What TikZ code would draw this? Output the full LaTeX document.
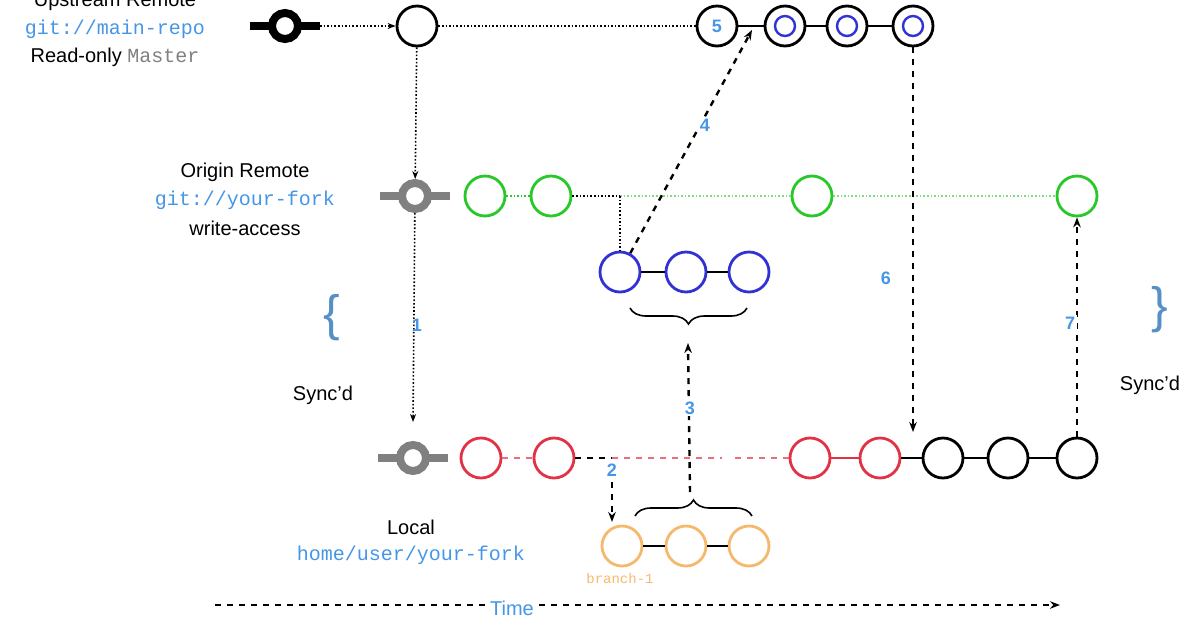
\documentclass[tikz,border=0pt]{standalone}
\usepackage{fontspec}
\setmainfont{Liberation Sans}
\setmonofont{Liberation Mono}
\usetikzlibrary{arrows.meta,decorations.pathreplacing}
\definecolor{lblue}{RGB}{70,150,230}
\definecolor{cgreen}{RGB}{40,200,40}
\definecolor{cred}{RGB}{225,50,70}
\definecolor{cblue}{RGB}{50,50,210}
\definecolor{corange}{RGB}{245,185,110}
\begin{document}
\begin{tikzpicture}[x=0.5pt,y=-0.5pt,
  c/.style={circle,draw,line width=1.4pt,minimum size=20pt,inner sep=0pt,fill=white},
  gc/.style={c,draw=cgreen}, rc/.style={c,draw=cred}, bc/.style={c,draw=cblue}, oc/.style={c,draw=corange},
  kc/.style={c,draw=black},
  inner/.style={circle,draw=cblue,line width=1.2pt,minimum size=10pt,inner sep=0pt},
  dotl/.style={densely dotted,line width=0.8pt},
  darr/.style={dashed,line width=1.2pt,-{Stealth[length=5pt]}},
  num/.style={text=lblue,font=\small\bfseries},
  lbl/.style={font=\fontsize{10}{12}\selectfont,align=center},
  mono/.style={font=\ttfamily\fontsize{10}{12}\selectfont,text=lblue}]
\useasboundingbox (0,0) rectangle (1196,628);
% key nodes
\newcommand\keynode[3]{%
  \draw[#2,line width=4pt] (#1)++(-35,0) -- ++(70,0);
  \node[circle,draw=#2,fill=white,line width=4pt,minimum size=13pt,inner sep=0pt] (#3) at (#1) {};}
\coordinate (u0p) at (285,26); \keynode{u0p}{black}{u0}
\coordinate (o0p) at (415,196); \keynode{o0p}{gray}{o0}
\coordinate (l0p) at (413,458); \keynode{l0p}{gray}{l0}
% labels
\node[lbl] (t1) at (115,2) {Upstream Remote};
\node[mono] (t2) at (115,29) {git://main-repo};
\node[lbl] (t3) at (115,57) {Read-only \texttt{\textcolor{gray}{Master}}};
\node[lbl] (t4) at (245,172) {Origin Remote};
\node[mono] (t5) at (245,200) {git://your-fork};
\node[lbl] (t6) at (245,228) {write-access};
\node[lbl] (t7) at (411,527) {Local};
\node[mono] (t8) at (411,555) {home/user/your-fork};
\node[font=\ttfamily\scriptsize,text=corange] (t9) at (620,578) {branch-1};
\node[lbl] (s1) at (323,395) {Sync'd};
\node[lbl] (s2) at (1150,385) {Sync'd};
\node[text=lblue!70!gray,font=\Huge] (b1) at (332,318) {\{};
\node[text=lblue!70!gray,font=\Huge] (b2) at (1160,310) {\}};
% upstream
\node[kc] (u1) at (417,26) {};
\node[kc] (u2) at (717,26) {}; \node[num] at (u2) {5};
\foreach \n/\x in {u3/785,u4/847,u5/913}{\node[kc] (\n) at (\x,26) {}; \node[inner] at (\n) {};}
\draw[dotl,-{Stealth[length=4pt]}] (u0) ++(35,0) -- (u1);
\draw[dotl] (u1) -- (u2);
\draw[line width=0.8pt] (u2)--(u3) (u3)--(u4) (u4)--(u5);
% origin
\node[gc] (o1) at (485,196) {}; \node[gc] (o2) at (551,196) {};
\node[gc] (o3) at (812,196) {}; \node[gc] (o4) at (1077,196) {};
\draw[dotl,cgreen] (o1)--(o2);
\coordinate (oc) at (620,196);
\draw[dotl] (o2) -- (oc);
\draw[dotl,cgreen!60] (oc) -- (o3); \draw[dotl,cgreen!60] (o3) -- (o4);
% blue
\node[bc] (b3) at (620,272) {}; \node[bc] (b4) at (686,272) {}; \node[bc] (b5) at (749,272) {};
\draw[line width=0.8pt] (b3)--(b4) (b4)--(b5);
\draw[dotl] (oc) -- (b3);
\draw[decorate,decoration={brace,amplitude=8pt,mirror},line width=0.8pt] (630,308) -- (747,308);
% local
\node[rc] (l1) at (481,458) {}; \node[rc] (l2) at (554,458) {};
\node[rc] (l3) at (810,458) {}; \node[rc] (l4) at (880,458) {};
\node[kc] (l5) at (943,458) {}; \node[kc] (l6) at (1008,458) {}; \node[kc] (l7) at (1077,458) {};
\coordinate (lc) at (612,458); \coordinate (le) at (722,458); \coordinate (ls) at (735,458);
\draw[dashed,cred!70,line width=0.6pt] (l1)--(l2) (lc)--(le) (ls)--(l3);
\draw[cred,line width=0.8pt] (l3)--(l4);
\draw[line width=0.8pt] (l4)--(l5) (l5)--(l6) (l6)--(l7);
\draw[dashed,line width=1.2pt] (l2)--(lc);
% orange
\node[oc] (r1) at (622,546) {}; \node[oc] (r2) at (686,546) {}; \node[oc] (r3) at (749,546) {};
\draw[line width=0.8pt] (r1)--(r2) (r2)--(r3);
\draw[decorate,decoration={brace,amplitude=8pt},line width=0.8pt] (635,516) -- (752,516);
% arrows
\draw[dotl,-{Stealth[length=4pt]}] (u1) -- (o0);
\draw[dotl,-{Stealth[length=4pt]}] (o0) -- (413,422);
\node[num] at (417,325) {1};
\coordinate (l2d) at (612,482);
\draw[darr] (l2d) -- (612,522); \node[num] at (612,470) {2};
\coordinate (bt) at (690,492); \coordinate (bb) at (688,343);
\draw[darr] (bt) -- (bb); \node[num,fill=white,inner sep=1pt] at (690,408) {3};
\draw[darr] (b3) -- (752,30); \node[num,fill=white,inner sep=1pt] at (705,125) {4};
\draw[darr] (u5) -- (913,432); \node[num] at (886,278) {6};
\draw[darr] (l7) -- (o4); \node[num,fill=white,inner sep=1pt] at (1070,323) {7};
% time
\coordinate (ta) at (215,605); \coordinate (tb) at (1060,605);
\draw[dashed,line width=0.8pt,-{Stealth[length=5pt]}] (ta) -- (tb);
\node[text=lblue,font=\fontsize{10}{12}\selectfont,fill=white,inner sep=1pt] (time) at (512,608) {Time};
\end{tikzpicture}
\end{document}
